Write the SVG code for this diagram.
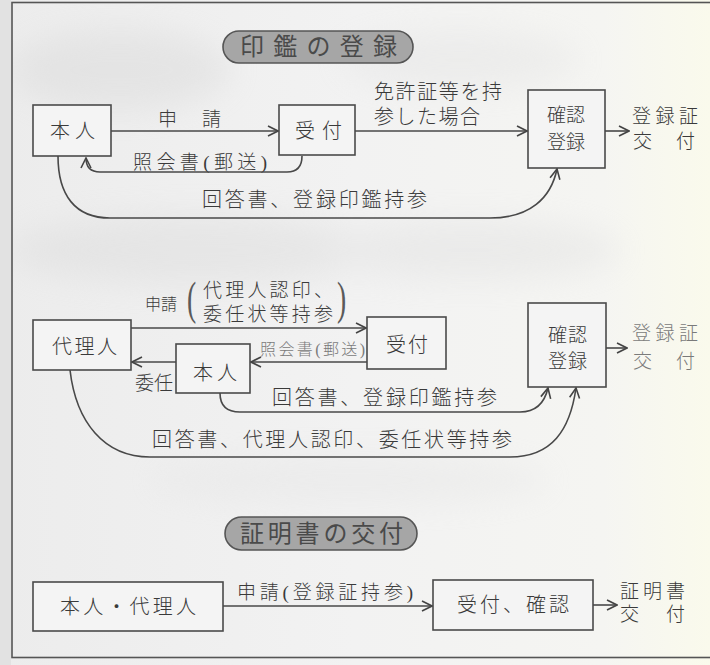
<svg xmlns="http://www.w3.org/2000/svg" width="710" height="665" viewBox="0 0 710 665">
<defs>
  <marker id="ah" viewBox="0 0 12 12" refX="11" refY="6" markerWidth="12" markerHeight="12" markerUnits="userSpaceOnUse" orient="auto">
    <path d="M1,1 L11,6 L1,11" fill="none" stroke="#444" stroke-width="1.6"/>
  </marker>
  <linearGradient id="bg" x1="0" y1="0" x2="1" y2="0">
    <stop offset="0" stop-color="#ececec"/>
    <stop offset="0.5" stop-color="#f2f2f2"/>
    <stop offset="0.85" stop-color="#f5f5f2"/>
    <stop offset="1" stop-color="#fafaec"/>
  </linearGradient>
  <filter id="blur" x="-50%" y="-50%" width="200%" height="200%">
    <feGaussianBlur stdDeviation="16"/>
  </filter>
  <style>
    text { font-family: "Liberation Serif", "Noto Sans CJK JP", serif; font-weight: 300; fill: #3a3a3a; dominant-baseline: central; }
    .box { fill: #f4f4f4; stroke: #4a4a4a; stroke-width: 1.6; }
    .pill { fill: #a6a6a6; stroke: #555; stroke-width: 1.6; }
    .pt { fill: #4a4a4a; font-size: 24px; font-weight: 400; }
    .n { font-size: 20px; }
    .l { font-size: 19px; }
    .s { font-size: 16px; }
    .faint { fill: #7a7a7a; }
    .par { font-family: "Liberation Serif", serif; font-size: 46px; font-weight: 400; fill: #5a5a5a; }
    .con path, .con line { fill: none; stroke: #484848; stroke-width: 1.6; marker-end: url(#ah); }
  </style>
</defs>

<!-- background -->
<rect x="0" y="0" width="710" height="665" fill="url(#bg)"/>
<g filter="url(#blur)" opacity="0.4">
  <ellipse cx="120" cy="70" rx="110" ry="40" fill="#d6d6d6"/>
  <ellipse cx="200" cy="250" rx="190" ry="35" fill="#d8d8d8"/>
  <ellipse cx="470" cy="250" rx="150" ry="30" fill="#dedede"/>
  <ellipse cx="460" cy="60" rx="120" ry="30" fill="#e2e2e2"/>
  <ellipse cx="350" cy="480" rx="200" ry="25" fill="#e4e4e4"/>
</g>
<rect x="0" y="0" width="11" height="665" fill="#e2e2e2"/>
<rect x="12" y="2.5" width="720" height="655" fill="none" stroke="#555" stroke-width="1.6"/>

<!-- titles -->
<g id="title1">
  <rect class="pill" x="223" y="31" width="190" height="32" rx="16"/>
  <text class="pt" x="240" y="47" textLength="157" lengthAdjust="spacing">印鑑の登録</text>
</g>
<g id="title2">
  <rect class="pill" x="225" y="517" width="192" height="33" rx="16.5"/>
  <text class="pt" x="240" y="534" textLength="163" lengthAdjust="spacing">証明書の交付</text>
</g>

<!-- section 1 nodes -->
<g id="n1-honnin">
  <rect class="box" x="33" y="105" width="78" height="51"/>
  <text class="n" x="50" y="131" textLength="45" lengthAdjust="spacing">本人</text>
</g>
<g id="n1-uketsuke">
  <rect class="box" x="279" y="105" width="76" height="50"/>
  <text class="n" x="295" y="131" textLength="47" lengthAdjust="spacing">受付</text>
</g>
<g id="n1-kakunin">
  <rect class="box" x="528" y="90" width="77" height="78"/>
  <text class="l" x="547" y="115" textLength="38" lengthAdjust="spacing">確認</text>
  <text class="l" x="547" y="142" textLength="38" lengthAdjust="spacing">登録</text>
</g>
<g id="n1-result">
  <text class="l" x="632" y="116" textLength="66" lengthAdjust="spacing">登録証</text>
  <text class="l" x="633" y="141" textLength="62" lengthAdjust="spacing">交付</text>
</g>

<!-- section 2 nodes -->
<g id="n2-dairinin">
  <rect class="box" x="33" y="320" width="98" height="50"/>
  <text class="n" x="52" y="347" textLength="65" lengthAdjust="spacing">代理人</text>
</g>
<g id="n2-honnin">
  <rect class="box" x="176" y="344" width="74" height="49"/>
  <text class="n" x="193" y="373" textLength="44" lengthAdjust="spacing">本人</text>
</g>
<g id="n2-uketsuke">
  <rect class="box" x="367" y="317" width="79" height="52"/>
  <text class="n" x="386" y="345" textLength="42" lengthAdjust="spacing">受付</text>
</g>
<g id="n2-kakunin">
  <rect class="box" x="528" y="303" width="78" height="84"/>
  <text class="l" x="548" y="335" textLength="39" lengthAdjust="spacing">確認</text>
  <text class="l" x="548" y="361" textLength="39" lengthAdjust="spacing">登録</text>
</g>
<g id="n2-result">
  <text class="l faint" x="632" y="333" textLength="66" lengthAdjust="spacing">登録証</text>
  <text class="l faint" x="633" y="361" textLength="62" lengthAdjust="spacing">交付</text>
</g>

<!-- section 3 nodes -->
<g id="n3-applicant">
  <rect class="box" x="33" y="582" width="190" height="49"/>
  <text class="n" x="60" y="607" textLength="136" lengthAdjust="spacing">本人・代理人</text>
</g>
<g id="n3-uketsuke">
  <rect class="box" x="433" y="580" width="160" height="50"/>
  <text class="n" x="457" y="605" textLength="112" lengthAdjust="spacing">受付、確認</text>
</g>
<g id="n3-result">
  <text class="l" x="620" y="591" textLength="65" lengthAdjust="spacing">証明書</text>
  <text class="l" x="620" y="614" textLength="65" lengthAdjust="spacing">交付</text>
</g>

<!-- connectors -->
<g id="connectors" class="con">
  <line x1="111" y1="131" x2="278" y2="131"/>
  <path d="M302,156 C302,167 297,172 287,172 L100,172 C91,172 86,168 86,158"/>
  <line x1="355" y1="131" x2="527" y2="131"/>
  <path d="M58,156 C58,195 75,218 110,218 L490,218 C530,218 551,198 557,169"/>
  <line x1="605" y1="131" x2="629" y2="131"/>

  <line x1="131" y1="328" x2="366" y2="328"/>
  <line x1="367" y1="362" x2="251" y2="362"/>
  <line x1="176" y1="362" x2="132" y2="362"/>
  <path d="M220,393 C220,405 226,412 240,412 L520,412 C537,412 545,401 548,388"/>
  <path d="M70,370 C76,422 104,457 150,457 L510,457 C552,457 570,430 576,388"/>
  <line x1="606" y1="348" x2="627" y2="348"/>

  <line x1="223" y1="606" x2="432" y2="606"/>
  <line x1="593" y1="605" x2="617" y2="605"/>
</g>

<!-- connector labels -->
<g id="labels">
  <text class="l" x="158" y="119" textLength="63" lengthAdjust="spacing">申請</text>
  <text class="l" x="133" y="162" textLength="134" lengthAdjust="spacing">照会書(郵送)</text>
  <text class="n" x="374" y="92" textLength="128" lengthAdjust="spacing">免許証等を持</text>
  <text class="n" x="374" y="117" textLength="106" lengthAdjust="spacing">参した場合</text>
  <text class="n" x="202" y="200" textLength="225" lengthAdjust="spacing">回答書、登録印鑑持参</text>

  <text class="s" x="145" y="304" textLength="32" lengthAdjust="spacing">申請</text>
  <text class="par" transform="translate(187,298) scale(0.6,1)" x="0" y="0">(</text>
  <text class="l" x="203" y="290" textLength="130" lengthAdjust="spacing">代理人認印、</text>
  <text class="l" x="203" y="314" textLength="130" lengthAdjust="spacing">委任状等持参</text>
  <text class="par" transform="translate(337,298) scale(0.6,1)" x="0" y="0">)</text>
  <text class="s faint" x="260" y="349" textLength="105" lengthAdjust="spacing">照会書(郵送)</text>
  <text class="l" x="135" y="383" textLength="38" lengthAdjust="spacing">委任</text>
  <text class="n" x="272" y="398" textLength="225" lengthAdjust="spacing">回答書、登録印鑑持参</text>
  <text class="n" x="152" y="440" textLength="360" lengthAdjust="spacing">回答書、代理人認印、委任状等持参</text>

  <text class="l" x="237" y="592" textLength="176" lengthAdjust="spacing">申請(登録証持参)</text>
</g>
</svg>
